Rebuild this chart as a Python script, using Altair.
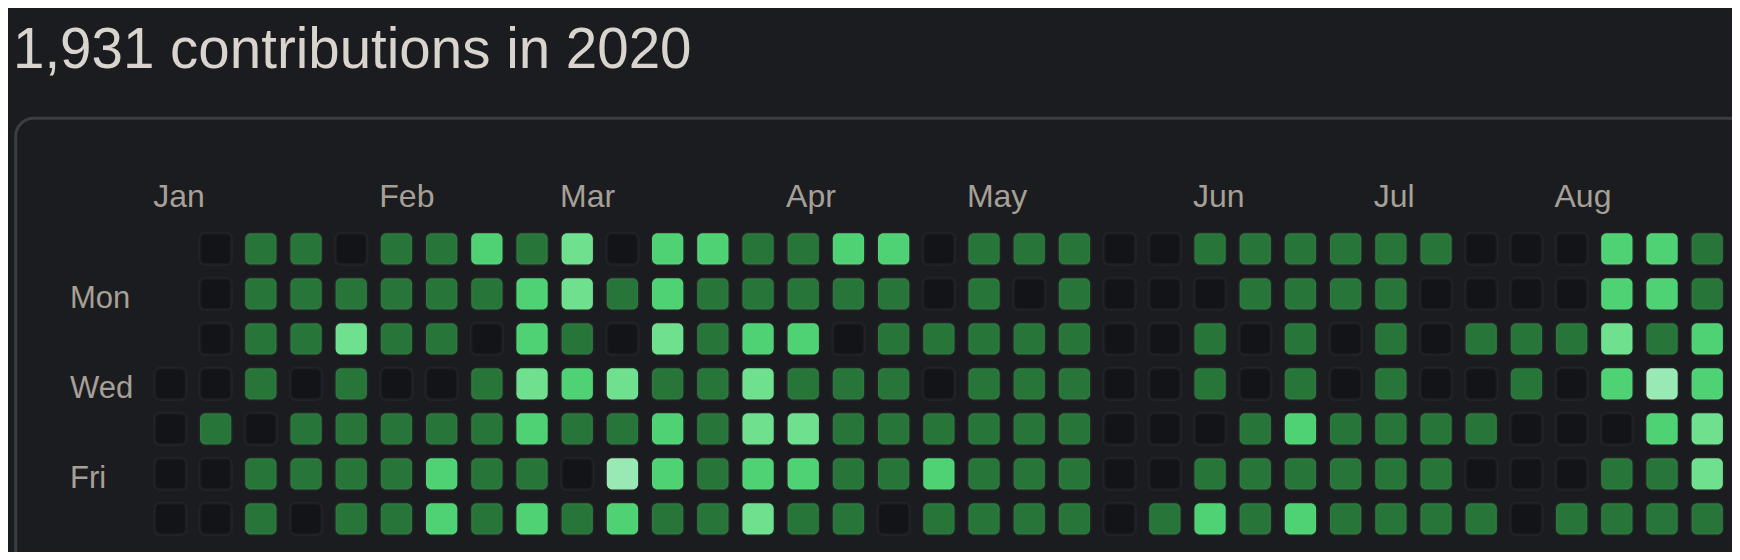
import altair as alt
import pandas as pd

# ---------------- data ----------------
title_text = "1,931 contributions in 2020"

months = ["Jan", "Feb", "Mar", "Apr", "May", "Jun", "Jul", "Aug"]
month_weeks = [0, 5, 9, 14, 18, 23, 27, 31]

day_names = ["Mon", "Wed", "Fri"]
day_rows = [1, 3, 5]

# contribution level per week column (0..35), one list per weekday row
sun = [None, 0, 1, 1, 0, 1, 1, 2, 1, 3, 0, 2, 2, 1, 1, 2, 2, 0, 1, 1, 1, 0, 0, 1, 1, 1, 1, 1, 1, 0, 0, 0, 2, 2, 1, 1]
mon = [None, 0, 1, 1, 1, 1, 1, 1, 2, 3, 1, 2, 1, 1, 1, 1, 1, 0, 1, 0, 1, 0, 0, 0, 1, 1, 1, 1, 0, 0, 0, 0, 2, 2, 1, 0]
tue = [None, 0, 1, 1, 3, 1, 1, 0, 2, 1, 0, 3, 1, 2, 2, 0, 1, 1, 1, 1, 1, 0, 0, 1, 0, 1, 0, 1, 0, 1, 1, 1, 3, 1, 2, 0]
wed = [0, 0, 1, 0, 1, 0, 0, 1, 3, 2, 3, 1, 1, 3, 1, 1, 1, 0, 1, 1, 1, 0, 0, 1, 0, 1, 0, 1, 0, 0, 1, 0, 2, 4, 2, 0]
thu = [0, 1, 0, 1, 1, 1, 1, 1, 2, 1, 1, 2, 1, 3, 3, 1, 1, 1, 1, 1, 1, 0, 0, 0, 1, 2, 1, 1, 1, 1, 0, 0, 0, 2, 3, 0]
fri = [0, 0, 1, 1, 1, 1, 2, 1, 1, 0, 4, 2, 1, 2, 2, 1, 1, 2, 1, 1, 1, 0, 0, 1, 1, 1, 1, 1, 1, 0, 0, 0, 1, 1, 3, 0]
sat = [0, 0, 1, 0, 1, 1, 2, 1, 2, 1, 2, 1, 1, 3, 1, 1, 0, 1, 1, 1, 1, 0, 1, 2, 1, 2, 1, 1, 1, 1, 0, 1, 1, 1, 1, 0]

levels = [0, 1, 2, 3, 4]
level_colors = ["#131417", "#277538", "#4ed274", "#6ee08e", "#99e9b4"]

rows = [sun, mon, tue, wed, thu, fri, sat]
records = []
for d, row in enumerate(rows):
    for w, lvl in enumerate(row):
        if lvl is None:
            continue
        records.append({"week": w, "day": d, "level": lvl})
cells_df = pd.DataFrame(records)
months_df = pd.DataFrame({"month": months, "week": month_weeks})
days_df = pd.DataFrame({"day_name": day_names, "day": day_rows})
title_df = pd.DataFrame({"t": [title_text]})

# ---------------- layout ----------------
W, H = 1724, 544
STEP_X, STEP_Y = 45.2, 45.0
CELL = 34.3
RING = 3.0
X0 = 162.45   # centre of week 0
Y0 = 240.95   # centre of Sunday row
BG = "#1b1c1f"
LABEL = "#a7a096"
FONT = "Liberation Sans"

xs = alt.Scale(domain=[-X0 / STEP_X, (W - X0) / STEP_X], nice=False, zero=False)
ys = alt.Scale(domain=[-Y0 / STEP_Y, (H - Y0) / STEP_Y], nice=False, zero=False, reverse=True)

frame = alt.Chart(title_df).mark_rect(
    fill="transparent", stroke="#3a3e41", strokeWidth=3, cornerRadius=18
).encode(
    x=alt.value(7.7), x2=alt.value(W + 60), y=alt.value(110.3), y2=alt.value(H + 60)
)

cells = alt.Chart(cells_df).mark_rect(
    width=CELL - RING, height=CELL - RING, cornerRadius=5.5,
    stroke="#ffffff", strokeOpacity=0.035, strokeWidth=RING
).encode(
    x=alt.X("week:Q", scale=xs, axis=None),
    y=alt.Y("day:Q", scale=ys, axis=None),
    fill=alt.Fill("level:O", scale=alt.Scale(domain=levels, range=level_colors), legend=None),
)

month_text = alt.Chart(months_df).mark_text(
    align="left", baseline="alphabetic", dx=-CELL / 2, fontSize=32, font=FONT, color=LABEL
).encode(
    x=alt.X("week:Q", scale=xs, axis=None),
    y=alt.value(198.7),
    text="month:N",
)

day_text = alt.Chart(days_df).mark_text(
    align="left", baseline="alphabetic", dy=14, fontSize=31, font=FONT, color=LABEL
).encode(
    x=alt.value(62),
    y=alt.Y("day:Q", scale=ys, axis=None),
    text="day_name:N",
)

title = alt.Chart(title_df).mark_text(
    align="left", baseline="alphabetic", fontSize=56.5, font=FONT, color="#d9d4cd"
).encode(
    x=alt.value(5), y=alt.value(60.3), text="t:N"
)

chart = alt.layer(frame, cells, month_text, day_text, title).properties(
    width=W, height=H, autosize=alt.AutoSizeParams(type="none"), padding=0
).configure(background=BG).configure_view(stroke="transparent")

chart.save("out.html", embed_options={"renderer": "svg", "actions": False})
